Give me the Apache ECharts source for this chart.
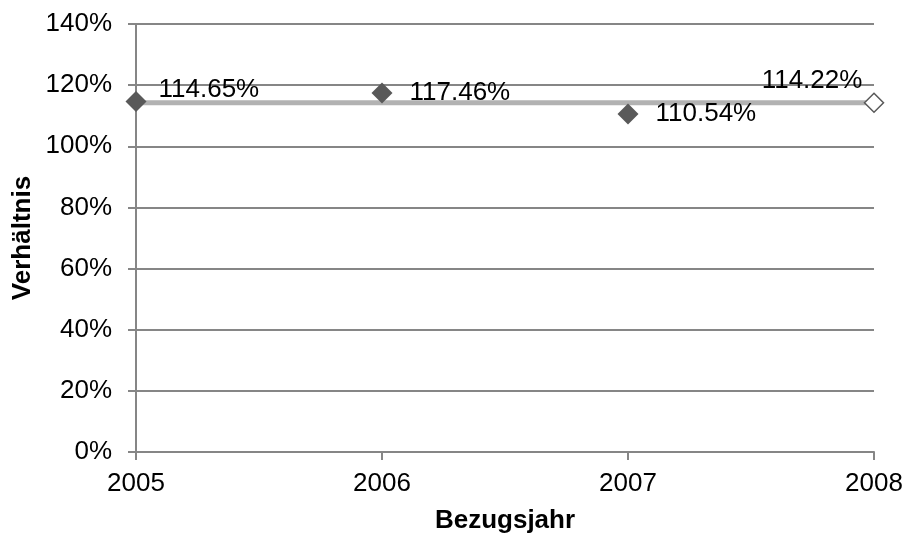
<!DOCTYPE html>
<html>
<head>
<meta charset="utf-8">
<script src="https://cdn.jsdelivr.net/npm/echarts@6/dist/echarts.min.js"></script>
<style>
  html, body { margin: 0; padding: 0; background: #fff; }
  #chart { width: 907px; height: 539px; }
</style>
</head>
<body>
<div id="chart"></div>
<script>
// Daten
var years = [2005, 2006, 2007, 2008];
var ratios = [114.65, 117.46, 110.54];
var average = 114.22;
var yTicks = [0, 20, 40, 60, 80, 100, 120, 140];

var myChart = echarts.init(document.getElementById("chart"));

var gridColor = "#868686";
var markColor = "#595959";
var font = "Liberation Sans, Arial, sans-serif";

// Punkte 2005-2007
var pointData = ratios.map(function(v, i) {
  var item = { value: [years[i], v] };
  if (i === 0) {
    item.label = { distance: 12, offset: [0, -12] };
  }
  return item;
});

// Mittelwertlinie, Symbol nur am Ende
var avgData = [
  { value: [years[0], average], symbol: "none", label: { show: false } },
  { value: [years[years.length - 1], average] }
];

var option = {
  animation: false,
  grid: { left: 136, right: 33, top: 24, bottom: 87, outerBoundsMode: "none", containLabel: false },
  xAxis: {
    type: "value",
    min: years[0],
    max: years[years.length - 1],
    interval: 1,
    name: "Bezugsjahr",
    nameLocation: "middle",
    nameGap: 56,
    nameMoveOverlap: false,
    nameTextStyle: { fontFamily: font, fontSize: 26, fontWeight: "bold", color: "#000" },
    axisLine: { show: true, lineStyle: { color: gridColor, width: 2 } },
    axisTick: { show: true, length: 8, lineStyle: { color: gridColor, width: 2 } },
    axisLabel: {
      fontFamily: font, fontSize: 26, color: "#000", margin: 19,
      formatter: function(v) { return String(v); }
    },
    splitLine: { show: false }
  },
  yAxis: {
    type: "value",
    min: yTicks[0],
    max: yTicks[yTicks.length - 1],
    interval: 20,
    name: "Verhältnis",
    nameLocation: "middle",
    nameGap: 100,
    nameMoveOverlap: false,
    nameTextStyle: { fontFamily: font, fontSize: 26, fontWeight: "bold", color: "#000" },
    axisLine: { show: true, lineStyle: { color: gridColor, width: 2 } },
    axisTick: { show: true, length: 8, lineStyle: { color: gridColor, width: 2 } },
    axisLabel: { fontFamily: font, fontSize: 26, color: "#000", margin: 24, formatter: "{value}%" },
    splitLine: { show: true, lineStyle: { color: gridColor, width: 2 } }
  },
  series: [
    {
      name: "Durchschnitt",
      type: "line",
      data: avgData,
      lineStyle: { color: "#b2b2b2", width: 5 },
      symbol: "diamond",
      symbolSize: 19,
      itemStyle: { color: "#fff", borderColor: markColor, borderWidth: 1.5, opacity: 1 },
      label: {
        show: true,
        position: "top",
        distance: 0,
        offset: [-62, 1],
        fontFamily: font,
        fontSize: 26,
        color: "#000",
        formatter: function(p) { return p.value[1].toFixed(2) + "%"; }
      },
      z: 2
    },
    {
      name: "Verhältnis",
      type: "scatter",
      data: pointData,
      symbol: "diamond",
      symbolSize: 21,
      itemStyle: { color: markColor, opacity: 1 },
      label: {
        show: true,
        position: "right",
        distance: 17,
        fontFamily: font,
        fontSize: 26,
        color: "#000",
        formatter: function(p) { return p.value[1].toFixed(2) + "%"; }
      },
      z: 3
    }
  ]
};

myChart.setOption(option);
</script>
</body>
</html>
